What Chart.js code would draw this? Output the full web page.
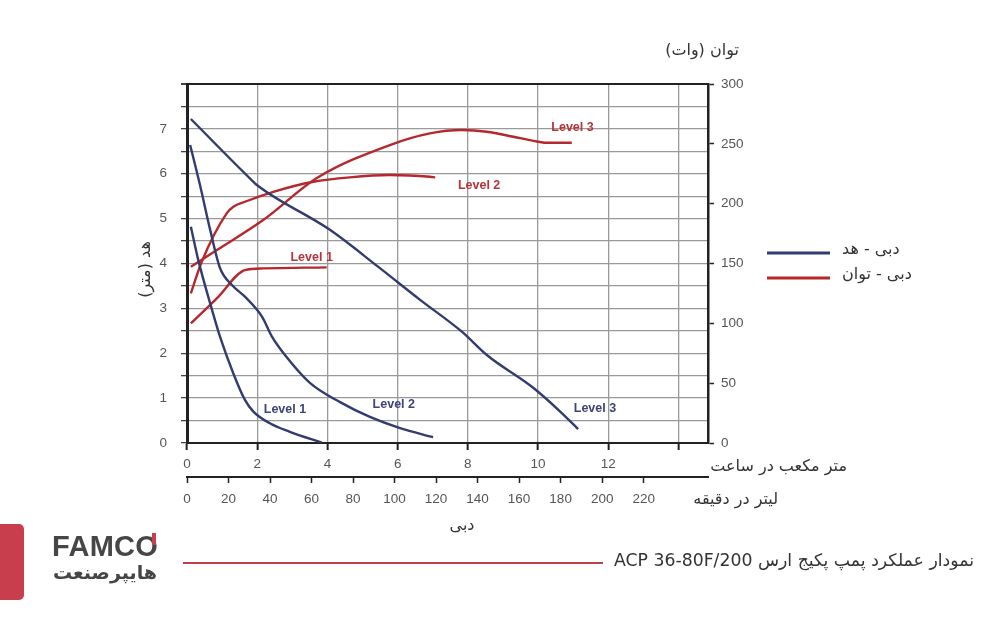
<!DOCTYPE html>
<html>
<head>
<meta charset="utf-8">
<script src="https://cdn.jsdelivr.net/npm/chart.js@4.4.0/dist/chart.umd.min.js"></script>
<style>
  html, body { margin: 0; padding: 0; background: #fff; }
  #wrap { position: relative; width: 1000px; height: 620px; overflow: hidden; }
  #chart { position: absolute; left: 0; top: 0; }
  .redbox { position: absolute; left: 0; top: 524px; width: 24px; height: 76px; background: #c93e4c; border-radius: 0 5px 5px 0; }
  .logo { position: absolute; left: 52px; top: 530px; font-family: "Liberation Sans", Arial, sans-serif; font-weight: bold; font-size: 29px; color: #464646; letter-spacing: 0.3px; }
  .logo .tick { position: absolute; left: 100px; top: 3px; width: 4px; height: 12px; background: #c93e4c; }
  .logo-fa { position: absolute; left: 52px; top: 561px; width: 106px; text-align: center; font-family: "DejaVu Sans", sans-serif; font-weight: bold; font-size: 19px; color: #464646; direction: rtl; }
  .rule { position: absolute; left: 183px; top: 562px; width: 420px; height: 2px; background: #c0404c; }
  .caption { position: absolute; right: 26px; top: 550px; font-family: "DejaVu Sans", sans-serif; font-size: 17.3px; color: #333; direction: rtl; white-space: nowrap; }
</style>
</head>
<body>
<div id="wrap">
  <canvas id="chart" width="1000" height="620"></canvas>
  <div class="redbox"></div>
  <div class="logo">FAMCO<span class="tick"></span></div>
  <div class="logo-fa">هایپرصنعت</div>
  <div class="rule"></div>
  <div class="caption">نمودار عملکرد پمپ پکیج ارس ACP 36-80F/200</div>
</div>
<script>
// flow (m3/h) vs head (m) - blue curves
const head1 = [[0.11, 4.82], [0.32, 4.08], [0.66, 3.11], [0.94, 2.37], [1.32, 1.55], [1.65, 0.96], [1.89, 0.70], [2.36, 0.44], [2.93, 0.25], [3.84, 0.01]];
const head2 = [[0.09, 6.64], [0.37, 5.75], [0.66, 4.75], [0.94, 3.90], [1.28, 3.52], [1.65, 3.26], [2.14, 2.81], [2.42, 2.37], [2.79, 1.96], [3.50, 1.34], [4.36, 0.91], [5.21, 0.58], [6.07, 0.33], [7.01, 0.13]];
const head3 = [[0.11, 7.22], [1.84, 5.86], [1.99, 5.75], [4.07, 4.75], [5.44, 3.93], [6.64, 3.19], [7.83, 2.48], [8.54, 1.96], [9.86, 1.23], [10.63, 0.70], [11.14, 0.31]];

// flow (m3/h) vs power (W) - red curves
const power1 = [[0.11, 100.0], [0.85, 120.9], [1.65, 144.5], [2.17, 145.9], [3.98, 146.8]];
const power2 = [[0.11, 125.1], [0.42, 151.5], [1.13, 191.9], [1.32, 197.4], [1.65, 201.6], [2.46, 209.9], [3.60, 218.3], [4.64, 222.0], [5.78, 223.9], [6.92, 222.5], [7.07, 222.0]];
const power3 = [[0.11, 147.3], [0.85, 161.2], [2.17, 186.3], [3.70, 221.4], [5.78, 249.0], [6.92, 258.7], [7.83, 261.5], [8.54, 260.1], [9.30, 255.9], [9.87, 252.5], [10.25, 250.9], [10.96, 250.9]];

// curve labels: [text, x (m3/h), y]
const headLabels = [['Level 1', 2.79, 0.74], ['Level 2', 5.89, 0.85], ['Level 3', 11.62, 0.77]];
const powerLabels = [['Level 1', 3.55, 155], ['Level 2', 8.32, 215], ['Level 3', 10.98, 264]];

const legendNames = ['دبی - هد', 'دبی - توان'];

const BLUE = '#333c6e';
const RED = '#b5282d';
const FA = '"DejaVu Sans", sans-serif';
const NUM = '"Liberation Sans", Arial, sans-serif';

const toPts = arr => arr.map(p => ({ x: p[0], y: p[1] }));
const line = (data, color, axis) => ({
  data: toPts(data),
  borderColor: color,
  borderWidth: 2.4,
  pointRadius: 0,
  cubicInterpolationMode: 'monotone',
  fill: false,
  yAxisID: axis,
});

const extras = {
  id: 'extras',
  afterDraw(chart) {
    const { ctx, scales } = chart;
    const x = scales.x, yl = scales.y, yr = scales.y1;
    ctx.save();
    // curve labels
    ctx.font = 'bold 12.5px ' + NUM;
    ctx.textAlign = 'center';
    ctx.textBaseline = 'middle';
    ctx.fillStyle = '#3d4478';
    headLabels.forEach(l => ctx.fillText(l[0], x.getPixelForValue(l[1]), yl.getPixelForValue(l[2])));
    ctx.fillStyle = '#b5353a';
    powerLabels.forEach(l => ctx.fillText(l[0], x.getPixelForValue(l[1]), yr.getPixelForValue(l[2])));

    // axis titles
    ctx.fillStyle = '#333';
    ctx.font = '16px ' + FA;
    ctx.direction = 'rtl';
    ctx.textAlign = 'center';
    ctx.fillText('توان (وات)', 702, 51);
    ctx.fillText('دبی', 462, 526);
    ctx.textAlign = 'right';
    ctx.fillText('متر مکعب در ساعت', 847, 467);
    ctx.fillText('لیتر در دقیقه', 778, 500);

    ctx.save();
    ctx.translate(146, (yl.top + yl.bottom) / 2 + 6);
    ctx.rotate(-Math.PI / 2);
    ctx.textAlign = 'center';
    ctx.fillText('هد (متر)', 0, 0);
    ctx.restore();

    // legend
    [BLUE, RED].forEach((c, i) => {
      const yy = 253 + i * 25;
      ctx.strokeStyle = c;
      ctx.lineWidth = 3;
      ctx.beginPath();
      ctx.moveTo(767, yy);
      ctx.lineTo(830, yy);
      ctx.stroke();
      ctx.textAlign = 'left';
      ctx.fillText(legendNames[i], 842, yy - 3);
    });
    ctx.restore();
  }
};

new Chart(document.getElementById('chart'), {
  type: 'line',
  data: {
    datasets: [
      line(head1, BLUE, 'y'),
      line(head2, BLUE, 'y'),
      line(head3, BLUE, 'y'),
      line(power1, RED, 'y1'),
      line(power2, RED, 'y1'),
      line(power3, RED, 'y1'),
    ],
  },
  options: {
    responsive: false,
    animation: false,
    layout: { padding: { left: 0, top: 84, right: 252, bottom: 108 } },
    plugins: { legend: { display: false }, tooltip: { enabled: false } },
    scales: {
      x: {
        type: 'linear',
        position: 'bottom',
        min: 0,
        max: 14.84,
        afterFit: s => { s.height = 34; },
        afterBuildTicks: s => { s.ticks = [0, 2, 4, 6, 8, 10, 12, 14].map(v => ({ value: v })); },
        border: { color: '#222', width: 2 },
        grid: { color: '#9a9a9a', lineWidth: 1.3, tickLength: 7, tickColor: '#222', tickWidth: 2 },
        ticks: {
          padding: 6,
          color: '#555',
          font: { family: NUM, size: 13.5 },
          maxRotation: 0,
          callback: v => (v <= 12 ? v : ''),
        },
      },
      x2: {
        type: 'linear',
        position: 'bottom',
        min: 0,
        max: 251,
        afterFit: s => { s.height = 35; },
        border: { color: '#222', width: 2 },
        grid: { drawOnChartArea: false, tickLength: 6, tickColor: '#222', tickWidth: 1.5 },
        ticks: {
          stepSize: 20,
          padding: 8,
          color: '#555',
          font: { family: NUM, size: 13.5 },
          maxRotation: 0,
          autoSkip: false,
          callback: v => (v <= 220 ? v : null),
        },
      },
      y: {
        position: 'left',
        min: 0,
        max: 8,
        afterFit: s => { s.width = 187; },
        border: { color: '#222', width: 3 },
        grid: {
          color: c => (c.tick && c.tick.value === 8 ? '#222' : '#9a9a9a'),
          lineWidth: c => (c.tick && c.tick.value === 8 ? 2 : 1.3),
          tickLength: 6,
          tickColor: '#444',
        },
        ticks: {
          stepSize: 0.5,
          padding: 14,
          color: '#555',
          font: { family: NUM, size: 13.5 },
          callback: v => (Number.isInteger(v) && v < 8 ? v : ''),
        },
      },
      y1: {
        position: 'right',
        min: 0,
        max: 300,
        afterFit: s => { s.width = 40; },
        border: { color: '#222', width: 2.5 },
        grid: { drawOnChartArea: false, tickLength: 6, tickColor: '#222', tickWidth: 1.5 },
        ticks: {
          stepSize: 50,
          padding: 7,
          color: '#555',
          font: { family: NUM, size: 13.5 },
        },
      },
    },
  },
  plugins: [extras],
});
</script>
</body>
</html>
